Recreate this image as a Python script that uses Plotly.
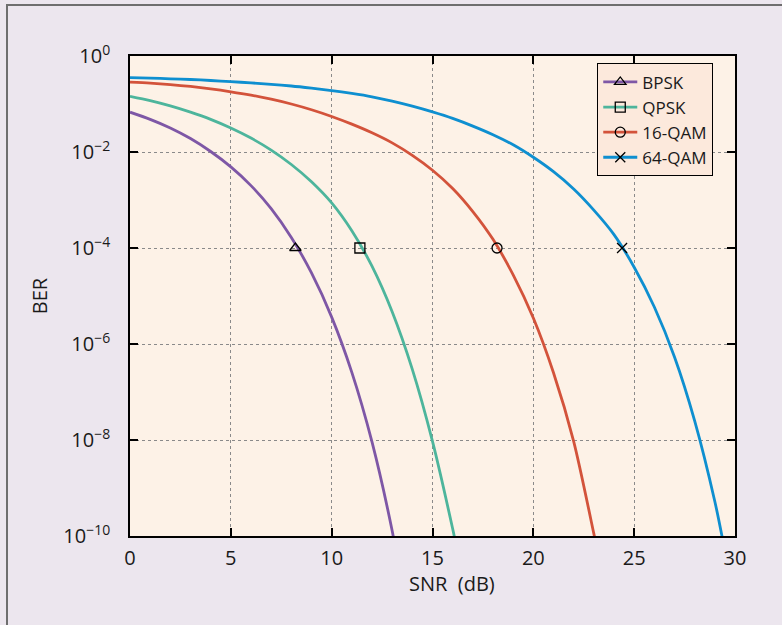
import plotly.graph_objects as go

# ---- data ----
snr_bpsk = [0, 1, 2, 3, 4, 5, 6, 7, 8, 9, 10, 11, 12, 13, 13.1]
log_ber_bpsk = [-1.17, -1.32, -1.50, -1.72, -1.99, -2.31, -2.70, -3.18, -3.78, -4.52,
                -5.44, -6.59, -8.04, -9.89, -10.12]

snr_qpsk = [0, 1, 2, 3, 4, 5, 6, 7, 8, 9, 10, 11, 12, 13, 14, 15, 16, 16.2]
log_ber_qpsk = [-0.84, -0.93, -1.04, -1.17, -1.32, -1.50, -1.71, -1.96, -2.26, -2.62,
                -3.06, -3.64, -4.38, -5.33, -6.53, -8.03, -9.85, -10.25]

snr_16qam = [0, 1, 2, 3, 4, 5, 6, 7, 8, 9, 10, 11, 12, 13, 14, 15, 16, 17, 18, 19,
             20, 21, 22, 23, 23.1]
log_ber_16qam = [-0.545, -0.565, -0.595, -0.635, -0.685, -0.745, -0.815, -0.90, -1.00, -1.12,
                 -1.26, -1.42, -1.60, -1.81, -2.07, -2.38, -2.76, -3.24, -3.82, -4.56,
                 -5.46, -6.60, -8.03, -9.95, -10.15]

snr_64qam = [0, 1, 2, 3, 4, 5, 6, 7, 8, 9, 10, 11, 12, 13, 14, 15, 16, 17, 18, 19,
             20, 21, 22, 23, 24, 25, 26, 27, 28, 29, 29.4]
log_ber_64qam = [-0.45, -0.46, -0.475, -0.49, -0.51, -0.535, -0.56, -0.59, -0.625, -0.67,
                 -0.72, -0.78, -0.85, -0.94, -1.045, -1.165, -1.30, -1.46, -1.64, -1.85,
                 -2.11, -2.41, -2.77, -3.21, -3.72, -4.40, -5.23, -6.27, -7.60, -9.28,
                 -10.1]

series_names = ["BPSK", "QPSK", "16-QAM", "64-QAM"]
marker_snr = [8.2, 11.4, 18.2, 24.4]
marker_ber = [1e-4, 1e-4, 1e-4, 1e-4]

x_ticks = [0, 5, 10, 15, 20, 25, 30]
y_tick_exps = [0, -2, -4, -6, -8, -10]
y_tick_text = ["10<sup>0</sup>", "10<sup>−2</sup>", "10<sup>−4</sup>", "10<sup>−6</sup>",
               "10<sup>−8</sup>", "10<sup>−10</sup>"]
x_title = "SNR  (dB)"
y_title = "BER"

# ---- styles ----
colors = ["#7E57A6", "#4DB59C", "#D3533B", "#0E8FD0"]
symbols = ["triangle-up-open", "square-open", "circle-open", "x-thin-open"]
FONT = "Open Sans, Noto Sans, sans-serif"

curves = [(snr_bpsk, log_ber_bpsk), (snr_qpsk, log_ber_qpsk),
          (snr_16qam, log_ber_16qam), (snr_64qam, log_ber_64qam)]

fig = go.Figure()
for (xs, ls), c in zip(curves, colors):
    fig.add_trace(go.Scatter(
        x=xs, y=[10 ** v for v in ls], mode="lines",
        line=dict(color=c, width=2.8, shape="spline", smoothing=0.8),
        showlegend=False, hoverinfo="skip"))

for name, c, s, mx, my in zip(series_names, colors, symbols, marker_snr, marker_ber):
    fig.add_trace(go.Scatter(
        x=[mx], y=[my], mode="lines+markers", name=name,
        line=dict(color=c, width=2.8),
        marker=dict(symbol=s, size=10, color="black", line=dict(color="black", width=1.3))))

fig.update_layout(
    width=782, height=625,
    margin=dict(l=130, r=47, t=56, b=89),
    paper_bgcolor="#ECE6EE",
    plot_bgcolor="#FDF2E7",
    font=dict(family=FONT, size=20, color="#1A1A1A"),
    legend=dict(x=0.772, y=0.985, xanchor="left", yanchor="top",
                bgcolor="#FCE9DC", bordercolor="black", borderwidth=1.2,
                font=dict(size=17), tracegroupgap=0, itemwidth=34),
    shapes=[dict(type="rect", xref="paper", yref="paper",
                 x0=(7 - 130) / 605, x1=1.2, y0=-0.3, y1=(536 - 5) / 480,
                 line=dict(color="#6E6E6E", width=2), layer="below")],
    annotations=[dict(text=x_title, xref="paper", yref="paper",
                      x=(452 - 130) / 605, y=(536 - 583) / 480,
                      xanchor="center", yanchor="middle", showarrow=False,
                      font=dict(size=20))],
)

fig.update_xaxes(
    range=[0, 30], tickvals=x_ticks, ticktext=[str(t) for t in x_ticks],
    showline=True, linecolor="black", linewidth=1.5, mirror="ticks",
    ticks="inside", ticklen=8, tickwidth=1.5, tickcolor="black",
    showgrid=True, gridcolor="#8A8A8A", griddash="dot", gridwidth=1,
    zeroline=False, ticklabelstandoff=3,
)
fig.update_yaxes(
    type="log", range=[-10, 0],
    tickvals=[10 ** e for e in y_tick_exps], ticktext=y_tick_text,
    showline=True, linecolor="black", linewidth=1.5, mirror="ticks",
    ticks="inside", ticklen=8, tickwidth=1.5, tickcolor="black",
    showgrid=True, gridcolor="#8A8A8A", griddash="dot", gridwidth=1,
    zeroline=False, ticklabelstandoff=14,
    title=dict(text=y_title, font=dict(size=20), standoff=10),
)

fig.write_html("out.html")
